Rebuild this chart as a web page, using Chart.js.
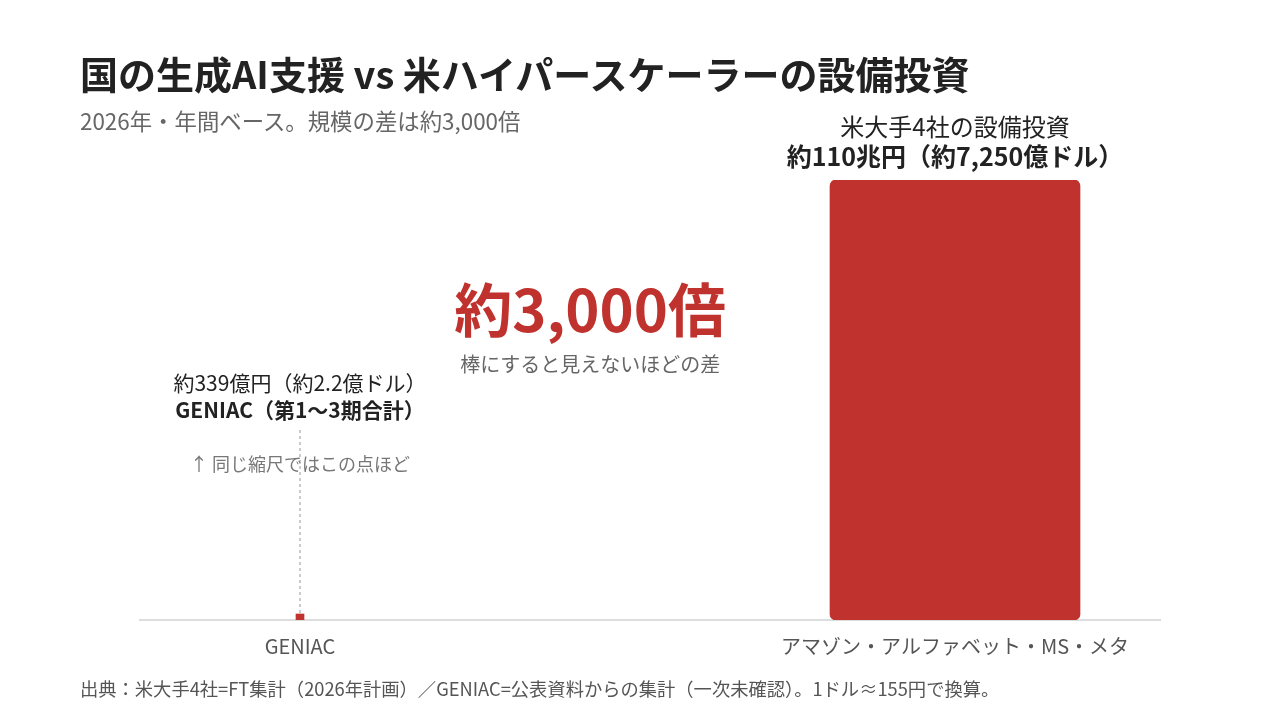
<!DOCTYPE html>
<html lang="ja">
<head>
<meta charset="utf-8">
<script src="https://cdn.jsdelivr.net/npm/chart.js@4.4.1/dist/chart.umd.min.js"></script>
<style>
  html, body { margin: 0; padding: 0; background: #fff; }
  body { width: 1280px; height: 720px; position: relative; overflow: hidden;
         font-family: "Noto Sans CJK JP", "Noto Sans", sans-serif; }
  #wrap { position: absolute; left: 0; top: 0; width: 1280px; height: 720px; }
  .txt { position: absolute; left: 80px; white-space: nowrap; }
  #title { top: 54px; font-size: 38px; line-height: 38px; font-weight: 700; color: #222; }
  #sub { top: 109px; font-size: 22.4px; line-height: 22px; color: #666; }
  #note { top: 679px; font-size: 18.3px; line-height: 18px; color: #555; }
</style>
</head>
<body>
<div id="wrap"><canvas id="chart" width="1280" height="720"></canvas></div>
<div class="txt" id="title">国の生成AI支援 vs 米ハイパースケーラーの設備投資</div>
<div class="txt" id="sub">2026年・年間ベース。規模の差は約3,000倍</div>
<div class="txt" id="note">出典：米大手4社=FT集計（2026年計画）／GENIAC=公表資料からの集計（一次未確認）。1ドル≈155円で換算。</div>
<script>
// 兆円
const categories = ['GENIAC', 'アマゾン・アルファベット・MS・メタ'];
const valuesChoYen = [0.0339, 110];
const labelsTop = [
  ['約339億円（約2.2億ドル）', 'GENIAC（第1〜3期合計）'],
  ['米大手4社の設備投資', '約110兆円（約7,250億ドル）']
];
const ratioText = '約3,000倍';
const ratioSub = '棒にすると見えないほどの差';
const dotNote = '↑ 同じ縮尺ではこの点ほど';

const RED = 'rgb(192,50,45)';
const FONT = '"Noto Sans CJK JP", "Noto Sans", sans-serif';

const annotations = {
  id: 'annotations',
  afterDraw(chart) {
    const ctx = chart.ctx;
    const xs = chart.scales.x, ys = chart.scales.y;
    const x0 = xs.getPixelForValue(0);
    const x1 = xs.getPixelForValue(1);
    const top1 = ys.getPixelForValue(valuesChoYen[1]);
    const base = ys.getPixelForValue(0);
    ctx.save();
    ctx.textAlign = 'center';
    ctx.textBaseline = 'middle';

    // big bar label
    ctx.fillStyle = '#222';
    ctx.font = '400 24px ' + FONT;
    ctx.fillText(labelsTop[1][0], x1, top1 - 53);
    ctx.font = '700 25px ' + FONT;
    ctx.fillText(labelsTop[1][1], x1, top1 - 24);

    // small one
    ctx.font = '400 21px ' + FONT;
    ctx.fillText(labelsTop[0][0], x0, 383);
    ctx.font = '700 21px ' + FONT;
    ctx.fillText(labelsTop[0][1], x0, 410);

    // dotted guide
    ctx.strokeStyle = '#bbb';
    ctx.lineWidth = 1.5;
    ctx.setLineDash([3, 3]);
    ctx.beginPath();
    ctx.moveTo(x0, 430);
    ctx.lineTo(x0, base - 6);
    ctx.stroke();
    ctx.setLineDash([]);

    ctx.fillStyle = '#777';
    ctx.font = '400 18px ' + FONT;
    ctx.fillText(dotNote, x0, 464);

    // ratio
    const xm = xs.getPixelForValue(0.443);
    ctx.fillStyle = RED;
    ctx.font = '700 58px ' + FONT;
    ctx.fillText(ratioText, xm, 310);
    ctx.fillStyle = '#666';
    ctx.font = '400 20px ' + FONT;
    ctx.fillText(ratioSub, xm, 364);
    ctx.restore();
  }
};

new Chart(document.getElementById('chart').getContext('2d'), {
  type: 'bar',
  data: {
    datasets: [
      {
        data: [{ x: 0, y: valuesChoYen[0] }],
        backgroundColor: RED,
        barThickness: 8,
        minBarLength: 6
      },
      {
        data: [{ x: 1, y: valuesChoYen[1] }],
        backgroundColor: RED,
        barThickness: 250,
        borderRadius: 6,
        borderSkipped: false
      }
    ]
  },
  options: {
    responsive: false,
    animation: false,
    grouped: false,
    layout: { padding: { left: 140, right: 120, top: 180, bottom: 48 } },
    plugins: { legend: { display: false }, tooltip: { enabled: false } },
    scales: {
      x: {
        type: 'linear',
        offset: false,
        min: -160 / 655,
        max: 1 + 205 / 655,
        afterBuildTicks(axis) { axis.ticks = [{ value: 0 }, { value: 1 }]; },
        grid: { display: false, drawTicks: false, offset: false },
        border: { display: true, color: '#ddd', width: 2 },
        ticks: {
          autoSkip: false,
          maxRotation: 0,
          padding: 14,
          color: '#555',
          font: { family: FONT, size: 20 },
          callback: (v) => categories[v] ?? ''
        }
      },
      y: { display: false, min: 0, max: 110 }
    }
  },
  plugins: [annotations]
});
</script>
</body>
</html>
